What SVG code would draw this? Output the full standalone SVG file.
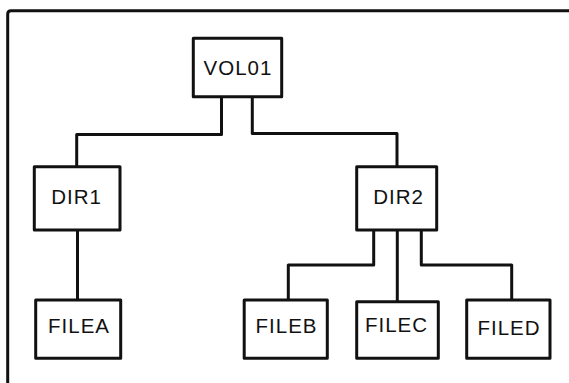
<svg xmlns="http://www.w3.org/2000/svg" width="569" height="383" viewBox="0 0 569 383">
<style>
.box{fill:#fff;stroke:#111;stroke-width:3;stroke-linejoin:round}
.ln{fill:none;stroke:#111;stroke-width:3;stroke-linejoin:round}
.t{font-family:"Liberation Sans",Arial,sans-serif;font-size:20.5px;fill:#111;text-anchor:middle;letter-spacing:1px}
</style>
<rect width="569" height="383" fill="#fff"/>
<path class="ln" d="M7.7,383 V14 Q7.7,10.7 11,10.7 H569"/>
<g id="connectors">
<path class="ln" d="M221.5,96.7 V134.5 H76.7 V166.7"/>
<path class="ln" d="M252.3,96.7 V133.5 H397 V166.7"/>
<path class="ln" d="M77.5,230 V300"/>
<path class="ln" d="M373.7,230 V265 H288.3 V300"/>
<path class="ln" d="M397.3,230 V301.7"/>
<path class="ln" d="M421.3,230 V265 H511.7 V300"/>
</g>
<g id="VOL01"><rect class="box" x="193.3" y="38.3" width="88.4" height="58.4"/><text class="t" x="238" y="75">VOL01</text></g>
<g id="DIR1"><rect class="box" x="34.3" y="166.7" width="85.7" height="63.3"/><text class="t" x="76.5" y="204">DIR1</text></g>
<g id="DIR2"><rect class="box" x="356.7" y="166.7" width="80" height="63.3"/><text class="t" x="398.5" y="203.5">DIR2</text></g>
<g id="FILEA"><rect class="box" x="35.7" y="300" width="85" height="58.3"/><text class="t" x="79" y="333.3">FILEA</text></g>
<g id="FILEB"><rect class="box" x="244.2" y="300" width="83.1" height="58.3"/><text class="t" x="286.5" y="332.7">FILEB</text></g>
<g id="FILEC"><rect class="box" x="356.7" y="301.7" width="81.6" height="56.6"/><text class="t" x="396.5" y="332.3">FILEC</text></g>
<g id="FILED"><rect class="box" x="466.7" y="300" width="83.3" height="58.3"/><text class="t" x="509" y="335">FILED</text></g>
</svg>
